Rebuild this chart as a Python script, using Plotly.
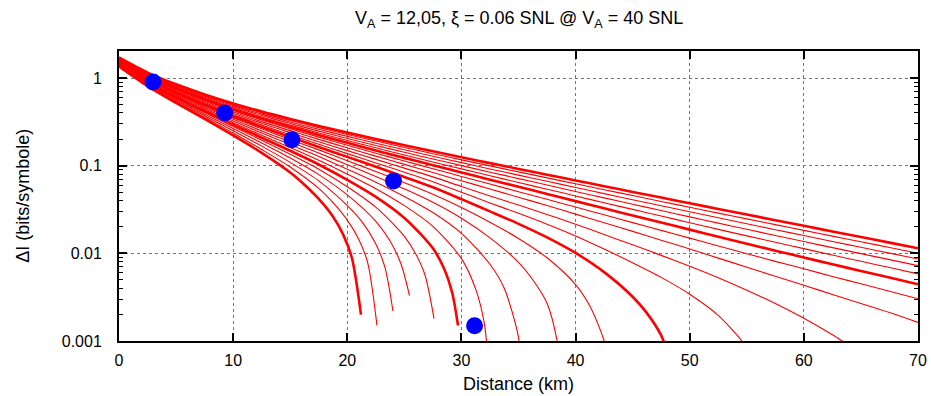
import plotly.graph_objects as go

# Shared distance grid (km) for the curves that span the full range
distance_km = [0, 2.5, 5, 7.5, 10, 12.5, 15, 17.5, 20, 22.5, 25, 27.5, 30, 32.5, 35,
               37.5, 40, 42.5, 45, 47.5, 50, 52.5, 55, 57.5, 60, 62.5, 65, 67.5, 70]

# Delta I (bits/symbole), one curve per reconciliation efficiency beta
di_b100 = [1.718, 1.153, 0.847, 0.650, 0.513, 0.414, 0.341, 0.2838, 0.2382, 0.2014, 0.1710, 0.1459, 0.1247, 0.1069, 0.0918,
           0.0789, 0.0678, 0.0583, 0.0502, 0.04325, 0.03724, 0.03206, 0.02767, 0.02388, 0.02061, 0.01778, 0.01535, 0.01324, 0.01143]
di_b099 = [1.700, 1.136, 0.831, 0.635, 0.498, 0.400, 0.328, 0.2718, 0.2270, 0.1910, 0.1613, 0.1370, 0.1165, 0.0994, 0.0849,
           0.0726, 0.0621, 0.0532, 0.0456, 0.03909, 0.03352, 0.02874, 0.02471, 0.02125, 0.01828, 0.01572, 0.01354, 0.01165, 0.01003]
di_b098 = [1.682, 1.119, 0.814, 0.619, 0.484, 0.387, 0.315, 0.2597, 0.2158, 0.1805, 0.1517, 0.1281, 0.1083, 0.0918, 0.0780,
           0.0664, 0.0564, 0.0480, 0.0409, 0.03493, 0.02980, 0.02542, 0.02175, 0.01862, 0.01596, 0.01367, 0.01173, 0.01006, 0.00863]
di_b097 = [1.664, 1.101, 0.798, 0.604, 0.469, 0.373, 0.302, 0.2477, 0.2045, 0.1701, 0.1420, 0.1191, 0.1001, 0.0843, 0.0712,
           0.0601, 0.0508, 0.0429, 0.0363, 0.03077, 0.02608, 0.02210, 0.01879, 0.01599, 0.01363, 0.01161, 0.00992, 0.00847, 0.00723]
di_b096 = [1.645, 1.084, 0.782, 0.588, 0.455, 0.359, 0.290, 0.2356, 0.1933, 0.1597, 0.1324, 0.1102, 0.0919, 0.0768, 0.0643,
           0.0539, 0.0451, 0.0377, 0.0317, 0.02661, 0.02236, 0.01878, 0.01583, 0.01336, 0.01131, 0.00956, 0.00811, 0.00688, 0.00583]
di_b095 = [1.627, 1.067, 0.765, 0.573, 0.440, 0.345, 0.277, 0.2236, 0.1821, 0.1492, 0.1227, 0.1013, 0.0836, 0.0692, 0.0574,
           0.0476, 0.0394, 0.0326, 0.0270, 0.02245, 0.01864, 0.01546, 0.01287, 0.01073, 0.00898, 0.00750, 0.00630, 0.00529, 0.00443]
di_b094 = [1.609, 1.050, 0.749, 0.557, 0.426, 0.332, 0.264, 0.2116, 0.1709, 0.1388, 0.1130, 0.0924, 0.0754, 0.0617, 0.0505,
           0.0413, 0.0337, 0.0275, 0.0224, 0.01829, 0.01492, 0.01214, 0.00991, 0.00810, 0.00666, 0.00545, 0.00449, 0.00370, 0.00303]
di_b093 = [1.591, 1.032, 0.733, 0.542, 0.411, 0.318, 0.251, 0.1995, 0.1597, 0.1284, 0.1034, 0.0835, 0.0672, 0.0542, 0.0436,
           0.0351, 0.0280, 0.0223, 0.0178, 0.01413, 0.01120, 0.00882, 0.00695, 0.00547, 0.00433, 0.00339, 0.00268, 0.00211, 0.00163]

dist_b092 = distance_km[:28]
di_b092 = [1.573, 1.015, 0.716, 0.526, 0.396, 0.304, 0.238, 0.1875, 0.1484, 0.1180, 0.0937, 0.0745, 0.0579, 0.0452,
           0.0355, 0.0277, 0.0215, 0.0164, 0.0125, 0.00948, 0.00714, 0.00528, 0.00380, 0.00268, 0.00182, 0.00118,
           0.00073, 0.00046]
dist_b091 = distance_km[:23] + [56.0]
di_b091 = [1.555, 0.998, 0.700, 0.511, 0.382, 0.291, 0.225, 0.1754, 0.1372, 0.1075, 0.0841, 0.0656, 0.0497, 0.0376,
           0.0286, 0.0215, 0.0158, 0.0112, 0.0078, 0.00532, 0.00342, 0.00196, 0.00084, 0.00045]
dist_b090 = distance_km[:19] + [46.25, 47.5, 48.0]
di_b090 = [1.537, 0.981, 0.684, 0.495, 0.367, 0.277, 0.212, 0.1634, 0.1260, 0.0971, 0.0744, 0.0567, 0.0415, 0.0301,
           0.0217, 0.0152, 0.0101, 0.0061, 0.0032, 0.00208, 0.00116, 0.00078]
dist_b089 = distance_km[:17] + [41.25, 42.5, 43.0]
di_b089 = [1.518, 0.963, 0.667, 0.480, 0.353, 0.263, 0.199, 0.1514, 0.1137, 0.0858, 0.0639, 0.0471, 0.0333, 0.0226,
           0.0148, 0.0089, 0.0044, 0.0025, 0.0010, 0.00045]
dist_b088 = distance_km[:15] + [36.25, 37.5, 38.4, 38.8]
di_b088 = [1.500, 0.946, 0.651, 0.465, 0.338, 0.249, 0.187, 0.1393, 0.1025, 0.0753, 0.0543, 0.0382, 0.0251, 0.0150,
           0.0079, 0.0050, 0.0027, 0.00098, 0.00036]
dist_b087 = distance_km[:14] + [33.75, 35.0, 35.2]
di_b087 = [1.482, 0.929, 0.634, 0.449, 0.323, 0.236, 0.174, 0.1273, 0.0912, 0.0649, 0.0446, 0.0292, 0.0169, 0.0075,
           0.0040, 0.0011, 0.0005]
dist_b086 = distance_km[:13] + [31.25, 32.0, 32.3]
di_b086 = [1.464, 0.912, 0.618, 0.434, 0.309, 0.222, 0.161, 0.1152, 0.0800, 0.0545, 0.0350, 0.0203, 0.0087, 0.0039,
           0.0016, 0.0007]
dist_b085 = distance_km[:12] + [28.5, 29.2, 29.7]
di_b085 = [1.446, 0.894, 0.602, 0.418, 0.294, 0.208, 0.148, 0.1032, 0.0688, 0.0440, 0.0253, 0.0114, 0.0066, 0.0035,
           0.0015]
dist_b084 = distance_km[:11] + [26.0, 26.8, 27.6]
di_b084 = [1.428, 0.877, 0.585, 0.403, 0.280, 0.195, 0.135, 0.0912, 0.0576, 0.0336, 0.0156, 0.0098, 0.0057, 0.0018]
dist_b083 = distance_km[:10] + [23.75, 24.7, 25.45]
di_b083 = [1.410, 0.860, 0.569, 0.387, 0.265, 0.181, 0.122, 0.0791, 0.0464, 0.0232, 0.0138, 0.0076, 0.0033]
dist_b082 = distance_km[:9] + [21.25, 22.5, 23.3, 24.0]
di_b082 = [1.392, 0.843, 0.553, 0.372, 0.250, 0.167, 0.109, 0.0671, 0.0351, 0.0233, 0.0128, 0.0069, 0.0022]
dist_b081 = distance_km[:8] + [18.75, 20.0, 21.0, 21.8, 22.6]
di_b081 = [1.373, 0.825, 0.536, 0.356, 0.236, 0.153, 0.0965, 0.0550, 0.0378, 0.0239, 0.0145, 0.0077, 0.0015]
dist_b080 = distance_km[:7] + [16.25, 17.5, 18.75, 19.6, 20.4, 21.2]
di_b080 = [1.355, 0.808, 0.520, 0.341, 0.221, 0.140, 0.0836, 0.0606, 0.0417, 0.0262, 0.0168, 0.0089, 0.0020]

# Experimental points
point_dist = [2.98, 9.26, 15.15, 24.05, 31.15]
point_di = [0.90, 0.40, 0.198, 0.067, 0.00149]

curves = [
    (distance_km, di_b100, True), (distance_km, di_b099, False), (distance_km, di_b098, False),
    (distance_km, di_b097, False), (distance_km, di_b096, False), (distance_km, di_b095, True),
    (distance_km, di_b094, False), (distance_km, di_b093, False), (dist_b092, di_b092, False),
    (dist_b091, di_b091, False), (dist_b090, di_b090, True), (dist_b089, di_b089, False),
    (dist_b088, di_b088, False), (dist_b087, di_b087, False), (dist_b086, di_b086, False),
    (dist_b085, di_b085, True), (dist_b084, di_b084, False), (dist_b083, di_b083, False),
    (dist_b082, di_b082, False), (dist_b081, di_b081, False), (dist_b080, di_b080, True),
]

FONT = "Liberation Sans, Arial, Helvetica, sans-serif"

fig = go.Figure()
for xs, ys, thick in curves:
    fig.add_trace(go.Scatter(
        x=xs, y=ys, mode="lines",
        line=dict(color="#ff0000", width=2.6 if thick else 1.1, shape="spline", smoothing=0.8),
        hoverinfo="skip", showlegend=False,
    ))

fig.add_trace(go.Scatter(
    x=point_dist, y=point_di, mode="markers",
    marker=dict(color="#0000ff", size=17, line=dict(width=0)),
    showlegend=False,
))

fig.update_layout(
    width=931, height=396,
    margin=dict(l=119, r=13, t=51, b=55, autoexpand=False),
    paper_bgcolor="white", plot_bgcolor="white",
    font=dict(family=FONT, size=16, color="black"),
    showlegend=False,
)

fig.update_xaxes(
    range=[0, 70], dtick=10, tick0=0, automargin=False,
    showline=True, linecolor="black", linewidth=2, mirror="ticks",
    ticks="inside", ticklen=8, tickwidth=1.5, tickcolor="black",
    showgrid=True, gridcolor="#777777", griddash="dot", gridwidth=1,
    zeroline=False, tickfont=dict(size=16, family=FONT), ticklabelstandoff=4,
)

fig.update_yaxes(
    type="log", range=[-3, 0.308], automargin=False,
    tickvals=[0.001, 0.01, 0.1, 1], ticktext=["0.001", "0.01", "0.1", "1"],
    showline=True, linecolor="black", linewidth=2, mirror="ticks",
    ticks="inside", ticklen=8, tickwidth=1.5, tickcolor="black",
    minor=dict(ticks="inside", ticklen=4, tickwidth=1, tickcolor="black", dtick="D1", showgrid=False),
    showgrid=True, gridcolor="#777777", griddash="dot", gridwidth=1,
    zeroline=False, tickfont=dict(size=16, family=FONT), ticklabelstandoff=12,
)

fig.add_annotation(
    text="V<sub>A</sub> = 12,05, ξ = 0.06 SNL @ V<sub>A</sub> = 40 SNL",
    xref="paper", yref="paper", x=0.5, y=1 + (51 - 19) / 290.5,
    xanchor="center", yanchor="middle", showarrow=False, font=dict(size=18, family=FONT),
)
fig.add_annotation(
    text="Distance (km)", xref="paper", yref="paper", x=0.5, y=-(385 - 341.5) / 290.5,
    xanchor="center", yanchor="middle", showarrow=False, font=dict(size=18, family=FONT),
)
fig.add_annotation(
    text="ΔI (bits/symbole)", xref="paper", yref="paper", x=-(118.3 - 22) / 799.7, y=0.5,
    xanchor="center", yanchor="middle", textangle=-90, showarrow=False, font=dict(size=18, family=FONT),
)

fig.write_html("out.html", config={"displayModeBar": False},
               post_script="document.body.style.margin='0';document.body.style.overflow='hidden';")
